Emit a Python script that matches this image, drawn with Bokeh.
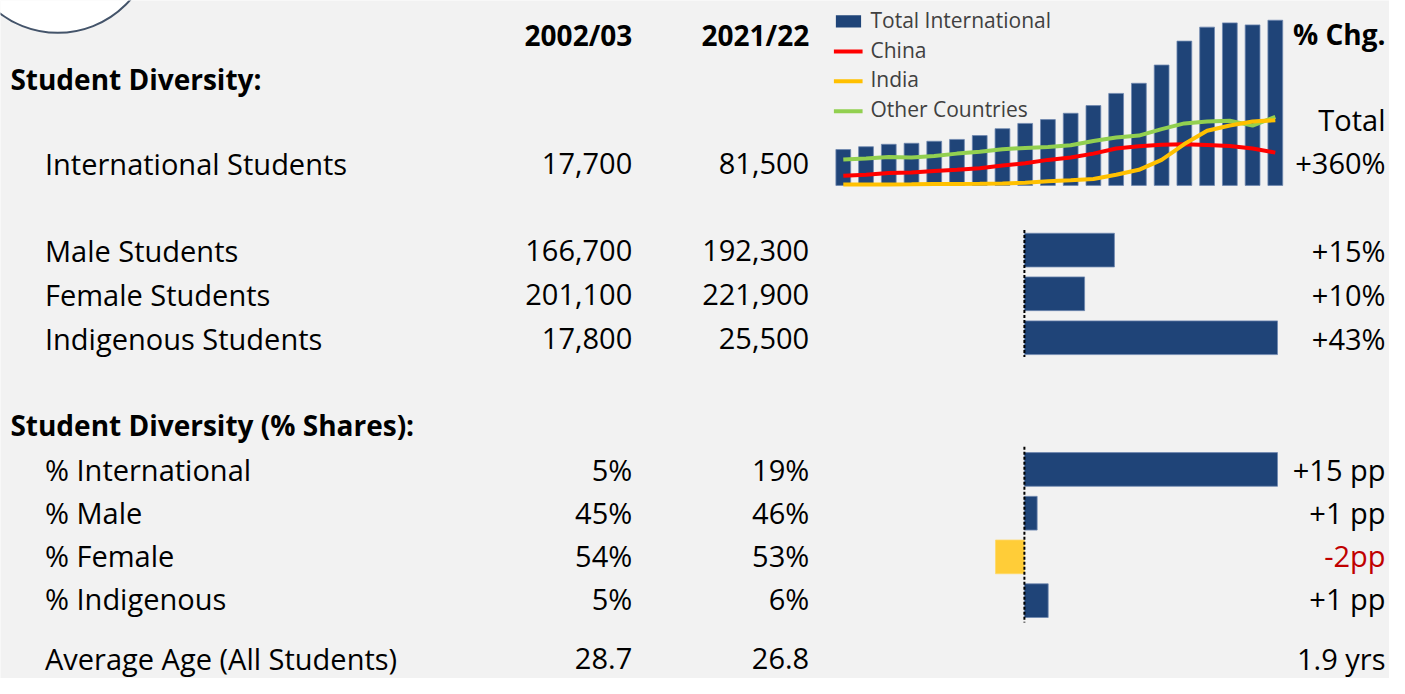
from bokeh.plotting import figure
from bokeh.models import Range1d
from bokeh.core.properties import value
from bokeh.embed import file_html
from bokeh.resources import INLINE

# ---------------- data ----------------
years = ["2002/03", "2003/04", "2004/05", "2005/06", "2006/07", "2007/08", "2008/09",
         "2009/10", "2010/11", "2011/12", "2012/13", "2013/14", "2014/15", "2015/16",
         "2016/17", "2017/18", "2018/19", "2019/20", "2020/21", "2021/22"]
total_intl = [17700, 19100, 20300, 20800, 21800, 22700, 24600, 28000, 30600, 32500,
              35600, 39400, 45400, 50400, 59400, 71200, 78100, 80200, 79200, 81500]
china = [4800, 5300, 6100, 6400, 7100, 7700, 8500, 9800, 10900, 12600,
         13800, 15700, 18200, 19300, 20100, 20300, 19900, 19500, 18200, 16200]
india = [500, 500, 500, 550, 650, 650, 800, 1000, 1300, 2100,
         2600, 3200, 5300, 7700, 12600, 20400, 27000, 29600, 31500, 32200]
other = [12800, 13300, 14000, 13800, 14500, 15700, 16600, 17900, 18500, 19000,
         19800, 21900, 23600, 24600, 27800, 30600, 31500, 31900, 29500, 33800]

col_headers = ["2002/03", "2021/22"]
intl_label = "International Students"
intl_2002 = 17700
intl_2021 = 81500

count_labels = ["Male Students", "Female Students", "Indigenous Students"]
count_2002 = [166700, 201100, 17800]
count_2021 = [192300, 221900, 25500]
count_chg = [15.4, 10.3, 43.3]          # % change

share_labels = ["% International", "% Male", "% Female", "% Indigenous"]
share_2002 = ["5%", "45%", "54%", "5%"]
share_2021 = ["19%", "46%", "53%", "6%"]
share_chg = [14.9, 0.75, -1.7, 1.4]      # percentage points
share_chg_labels = ["+15 pp", "+1 pp", "-2pp", "+1 pp"]

age_label = "Average Age (All Students)"
age_2002 = 28.7
age_2021 = 26.8
age_chg_label = "1.9 yrs"

# ---------------- styling / layout ----------------
BG = "#f2f2f2"
NAVY = "#1f4478"
FONT = value("Open Sans")
FS = 29     # regular text px
FSB = 28    # bold text px
FSL = 21    # legend text px
REF_W, REF_H = 1405, 694
W, H = 1389, 678
SY = H / REF_H

p = figure(width=W, height=H, x_range=Range1d(0, REF_W), y_range=Range1d(REF_H, 0),
           output_backend="svg", toolbar_location=None, min_border=0,
           background_fill_color=BG, border_fill_color=BG, outline_line_color=None)
p.axis.visible = False
p.grid.visible = False


def txt(xs, ys, texts, fs=FS, bold=False, align="left", color="black"):
    off = 0.37 * fs / SY
    p.text(x=xs, y=[y - off for y in ys], text=texts, text_font=FONT,
           text_font_size=f"{fs}px", text_font_style="bold" if bold else "normal",
           text_align=align, text_baseline="alphabetic", text_color=color)


# mini chart ranges (year index on x, student counts on y)
c0, step = 852.5, 23.0
base_y, per_px = 189.3, 482.0
p.extra_x_ranges["yr"] = Range1d((0 - c0) / step, (REF_W - c0) / step)
p.extra_y_ranges["cnt"] = Range1d(-(REF_H - base_y) * per_px, base_y * per_px)

# horizontal change bars ranges
zero_x, full_px = 1035.7, 256.0
k1 = full_px / max(count_chg)
k2 = full_px / max(share_chg)
p.extra_x_ranges["chg"] = Range1d(-zero_x / k1, (REF_W - zero_x) / k1)
p.extra_x_ranges["pp"] = Range1d(-zero_x / k2, (REF_W - zero_x) / k2)

# decorative circle top-left
p.circle(x=[58], y=[-65], radius=97, fill_color="white", line_color="#44546a", line_width=2)

# ---- mini chart ----
idx = list(range(len(years)))
p.vbar(x=idx, top=total_intl, bottom=0, width=0.65, fill_color=NAVY,
       line_color="#6f88b0", line_width=0.8, x_range_name="yr", y_range_name="cnt")
p.line(idx, other, line_color="#92d050", line_width=4, x_range_name="yr", y_range_name="cnt")
p.line(idx, china, line_color="#ff0000", line_width=4, x_range_name="yr", y_range_name="cnt")
p.line(idx, india, line_color="#ffc000", line_width=4, x_range_name="yr", y_range_name="cnt")

# legend
p.quad(left=[845], right=[870.5], top=[15], bottom=[27.7], fill_color=NAVY, line_color=None)
p.segment(x0=[843] * 3, x1=[872] * 3, y0=[52.3, 82.7, 113.3], y1=[52.3, 82.7, 113.3],
          line_color=["#ff0000", "#ffc000", "#92d050"], line_width=4)
txt([880] * 4, [28.3, 58.5, 88.7, 119.3],
    ["Total International", "China", "India", "Other Countries"], fs=FSL, color="#404040")

# ---- headers ----
txt([639, 818], [45.7, 45.7], col_headers, fs=FSB, bold=True, align="right")
txt([1401], [45.3], ["% Chg."], fs=FSB, bold=True, align="right")
txt([10, 10], [90.7, 445], ["Student Diversity:", "Student Diversity (% Shares):"],
    fs=FSB, bold=True)

# ---- international row ----
txt([45], [178], [intl_label])
txt([639, 818], [177.5, 177.5], [f"{intl_2002:,}", f"{intl_2021:,}"], align="right")
tot_chg = round((intl_2021 / intl_2002 - 1) * 100, -1)
txt([1401, 1401], [133.3, 177], ["Total", f"+{tot_chg:.0f}%"], align="right")

# ---- count rows ----
rows1_base = [267.3, 311.7, 356.7]
rows1_mid = [255.5, 300.2, 345.2]
txt([45] * 3, rows1_base, count_labels)
txt([639] * 3, rows1_base, [f"{v:,}" for v in count_2002], align="right")
txt([818] * 3, rows1_base, [f"{v:,}" for v in count_2021], align="right")
txt([1401] * 3, rows1_base, [f"+{v:.0f}%" for v in count_chg], align="right")
p.hbar(y=rows1_mid, left=0, right=count_chg, height=34.5, fill_color=NAVY,
       line_color="#6f88b0", line_width=0.8, x_range_name="chg")
p.segment(x0=[0], x1=[0], y0=[235], y1=[365], line_color="black", line_width=2,
          line_dash="3 2", x_range_name="chg")

# ---- share rows ----
rows2_base = [490.7, 535, 579.3, 623.3]
rows2_mid = [480, 524.8, 569.5, 614.3]
txt([45] * 4, rows2_base, share_labels)
txt([639] * 4, rows2_base, share_2002, align="right")
txt([818] * 4, rows2_base, share_2021, align="right")
for yb, lab, v in zip(rows2_base, share_chg_labels, share_chg):
    txt([1401], [yb], [lab], align="right", color="#c00000" if v < 0 else "black")
p.hbar(y=rows2_mid, left=0, right=share_chg, height=34.5,
       fill_color=["#ffcd38" if v < 0 else NAVY for v in share_chg],
       line_color=["#ffd966" if v < 0 else "#6f88b0" for v in share_chg],
       line_width=0.8, x_range_name="pp")
p.segment(x0=[0], x1=[0], y0=[456.7], y1=[636.7], line_color="black", line_width=2,
          line_dash="3 2", x_range_name="pp")

# ---- age row ----
age_y = 685
txt([45], [age_y], [age_label])
txt([639, 818], [age_y, age_y], [f"{age_2002}", f"{age_2021}"], align="right")
txt([1401], [age_y], [age_chg_label], align="right")

html = file_html(p, INLINE)
html = html.replace("<body>", '<body style="background-color:#f2f2f2;">', 1)
open("out.html", "w").write(html)
